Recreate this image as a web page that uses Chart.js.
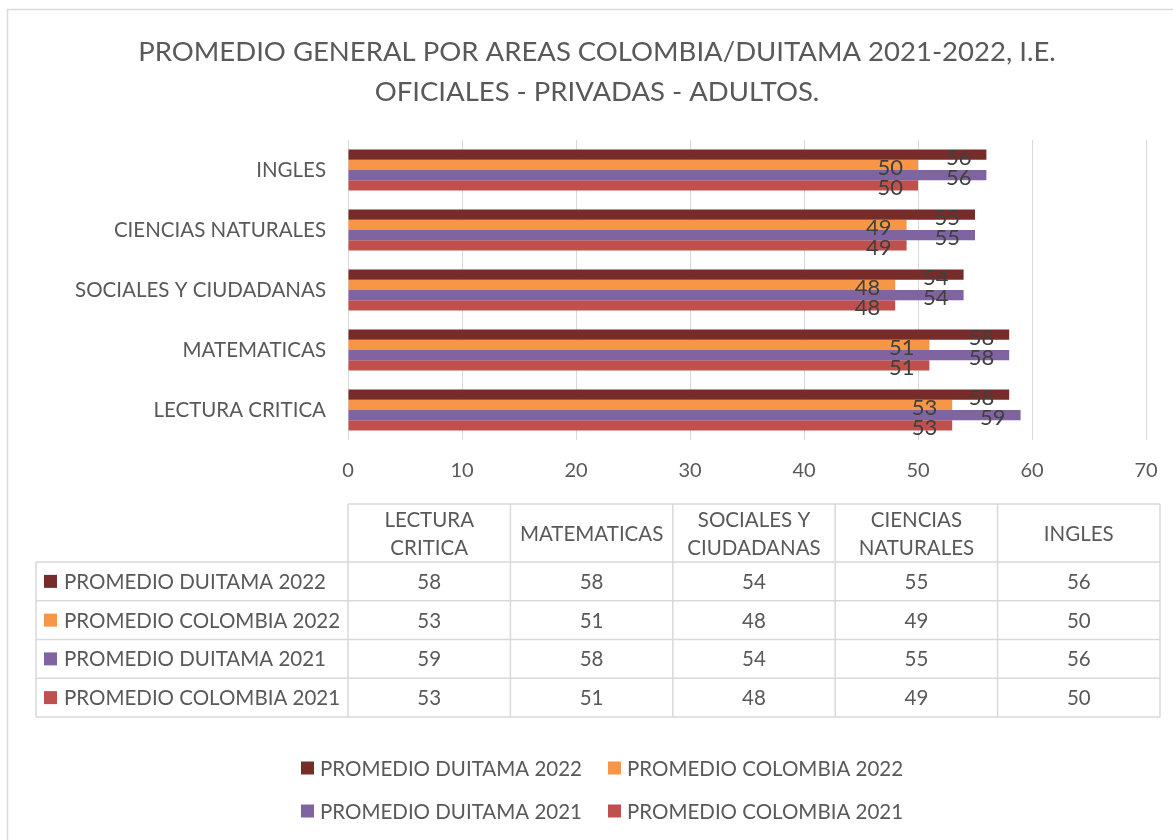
<!DOCTYPE html>
<html lang="es">
<head>
<meta charset="utf-8">
<title>Promedio general por areas</title>
<script src="https://cdn.jsdelivr.net/npm/chart.js@4.4.1/dist/chart.umd.min.js"></script>
<style>
  html, body { margin: 0; padding: 0; background: #fff; }
  #wrap { width: 1173px; height: 840px; }
</style>
</head>
<body>
<div id="wrap"><canvas id="chart" width="1173" height="840"></canvas></div>
<script>
// Data (table order, first area is drawn at the bottom)
const areas = ['LECTURA CRITICA', 'MATEMATICAS', 'SOCIALES Y CIUDADANAS', 'CIENCIAS NATURALES', 'INGLES'];
const seriesNames = ['PROMEDIO DUITAMA 2022', 'PROMEDIO COLOMBIA 2022', 'PROMEDIO DUITAMA 2021', 'PROMEDIO COLOMBIA 2021'];
const duitama2022 = [58, 58, 54, 55, 56];
const colombia2022 = [53, 51, 48, 49, 50];
const duitama2021 = [59, 58, 54, 55, 56];
const colombia2021 = [53, 51, 48, 49, 50];
const xTicks = [0, 10, 20, 30, 40, 50, 60, 70];
const titleLines = ['PROMEDIO GENERAL POR AREAS COLOMBIA/DUITAMA 2021-2022, I.E.', 'OFICIALES - PRIVADAS - ADULTOS.'];

const seriesColors = ['#772C2A', '#F79646', '#8064A2', '#C0504D'];
const FONT = "Lato, 'Open Sans', sans-serif";
const TEXT = '#595959';
const LINE = '#D9D9D9';

const seriesValues = [duitama2022, colombia2022, duitama2021, colombia2021];

// value labels at the inside end of every bar
const barLabels = {
    id: 'barLabels',
    afterDatasetsDraw(chart) {
        const ctx = chart.ctx;
        ctx.save();
        ctx.font = '22px ' + FONT;
        ctx.fillStyle = '#404040';
        ctx.textAlign = 'right';
        ctx.textBaseline = 'middle';
        chart.data.datasets.forEach((ds, i) => {
            chart.getDatasetMeta(i).data.forEach((bar, j) => {
                ctx.fillText(String(ds.data[j]), bar.x - 15, bar.y + 3);
            });
        });
        ctx.restore();
    }
};

function wrapWords(ctx, text, maxWidth) {
    const words = text.split(' ');
    const lines = [];
    let line = '';
    words.forEach(w => {
        const test = line ? line + ' ' + w : w;
        if (line && ctx.measureText(test).width > maxWidth) {
            lines.push(line);
            line = w;
        } else {
            line = test;
        }
    });
    lines.push(line);
    return lines;
}

// data table and legend under the chart, built from the same arrays
const tableAndLegend = {
    id: 'tableAndLegend',
    afterDraw(chart) {
        const ctx = chart.ctx;
        const colStart = chart.chartArea.left;
        const tableLeft = 36, tableRight = 1160;
        const headTop = 504, headBottom = 562, rowH = 38.75;
        const colW = (tableRight - colStart) / areas.length;
        const tableBottom = headBottom + rowH * seriesNames.length;

        ctx.save();
        // outer frame of the chart
        ctx.strokeStyle = LINE;
        ctx.lineWidth = 1.5;
        ctx.strokeRect(7.5, 9.5, 1300, 1000);

        // table lines
        ctx.beginPath();
        ctx.moveTo(colStart, headTop);
        ctx.lineTo(tableRight, headTop);
        for (let r = 0; r <= seriesNames.length; r++) {
            const y = headBottom + r * rowH;
            ctx.moveTo(tableLeft, y);
            ctx.lineTo(tableRight, y);
        }
        ctx.moveTo(tableLeft, headBottom);
        ctx.lineTo(tableLeft, tableBottom);
        for (let c = 0; c <= areas.length; c++) {
            const x = colStart + c * colW;
            ctx.moveTo(x, headTop);
            ctx.lineTo(x, tableBottom);
        }
        ctx.stroke();

        ctx.font = '20.5px ' + FONT;
        ctx.fillStyle = TEXT;
        ctx.textBaseline = 'middle';
        ctx.textAlign = 'center';
        // header cells
        areas.forEach((a, c) => {
            const cx = colStart + c * colW + colW / 2;
            const lines = wrapWords(ctx, a, 140);
            const lh = 28;
            const y0 = (headTop + headBottom) / 2 - (lines.length - 1) * lh / 2 + 1;
            lines.forEach((l, k) => ctx.fillText(l, cx, y0 + k * lh));
        });
        // value cells and row headers
        seriesNames.forEach((name, r) => {
            const cy = headBottom + r * rowH + rowH / 2;
            ctx.textAlign = 'center';
            seriesValues[r].forEach((v, c) => {
                ctx.fillText(String(v), colStart + c * colW + colW / 2, cy + 1);
            });
            ctx.fillStyle = seriesColors[r];
            ctx.fillRect(44, cy - 6.5, 13, 13);
            ctx.fillStyle = TEXT;
            ctx.textAlign = 'left';
            ctx.fillText(name, 64, cy + 1);
        });

        // legend, two per row
        const legX = [301, 608], legY = [768, 811];
        seriesNames.forEach((name, i) => {
            const x = legX[i % 2], y = legY[Math.floor(i / 2)];
            ctx.fillStyle = seriesColors[i];
            ctx.fillRect(x, y - 6.5, 13, 13);
            ctx.fillStyle = TEXT;
            ctx.textAlign = 'left';
            ctx.fillText(name, x + 19, y + 1);
        });
        ctx.restore();
    }
};

new Chart(document.getElementById('chart'), {
    type: 'bar',
    data: {
        labels: areas,
        datasets: seriesNames.map((name, i) => ({
            label: name,
            data: seriesValues[i],
            backgroundColor: seriesColors[i],
            borderWidth: 0,
            categoryPercentage: 0.68,
            barPercentage: 1
        }))
    },
    options: {
        indexAxis: 'y',
        responsive: false,
        animation: false,
        layout: { padding: { left: 48, right: 27, top: 0, bottom: 350 } },
        plugins: {
            legend: { display: false },
            tooltip: { enabled: false },
            title: {
                display: true,
                text: titleLines,
                color: TEXT,
                font: { family: FONT, size: 27.5, weight: 'normal', lineHeight: 1.455 },
                padding: { top: 32, bottom: 28 }
            }
        },
        scales: {
            x: {
                min: xTicks[0],
                max: xTicks[xTicks.length - 1],
                afterBuildTicks(scale) { scale.ticks = xTicks.map(v => ({ value: v })); },
                afterFit(scale) {
                    scale.height = 50;
                    scale.paddingLeft = 0;
                    scale.paddingRight = 0;
                },
                grid: { color: LINE, drawTicks: false },
                border: { display: false },
                ticks: { color: TEXT, font: { family: FONT, size: 20 }, padding: 19 }
            },
            y: {
                reverse: true,
                afterFit(scale) { scale.width = 300; },
                grid: { display: false, drawTicks: false },
                border: { display: false },
                ticks: { color: TEXT, font: { family: FONT, size: 20.5 }, padding: 22 }
            }
        }
    },
    plugins: [barLabels, tableAndLegend]
});
</script>
</body>
</html>
